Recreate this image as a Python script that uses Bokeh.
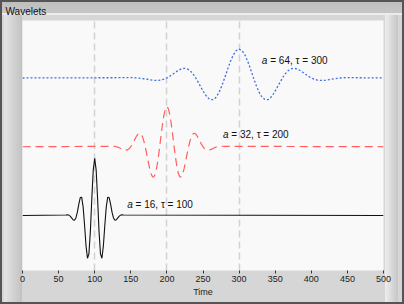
from bokeh.plotting import figure
from bokeh.models import Range1d, FixedTicker, Title, ColumnDataSource
from bokeh.core.properties import value
from bokeh.embed import file_html
from bokeh.resources import INLINE

# ---- data ----
x_ticks = [0, 50, 100, 150, 200, 250, 300, 350, 400, 450, 500]
grid_x = [100, 200, 300]

# baselines (vertical offsets) of the three traces
offsets = {"a16": 0.0, "a32": 1.0, "a64": 2.0}

# a = 16, tau = 100 (black, solid)
t16 = [0] + list(range(60, 141, 2)) + [500]
y16 = [0,
       0.008, 0.010, 0.006, -0.009, -0.035, -0.062, -0.070, -0.036, 0.049, 0.166,
       0.261, 0.263, 0.122, -0.146, -0.443, -0.622, -0.558, -0.231, 0.245, 0.664,
       0.830,
       0.664, 0.245, -0.231, -0.558, -0.622, -0.443, -0.146, 0.122, 0.263, 0.261,
       0.166, 0.049, -0.036, -0.070, -0.062, -0.035, -0.009, 0.006, 0.010, 0.008,
       0]

# a = 32, tau = 200 (red, dashed)
t32 = [0] + list(range(120, 281, 2)) + [500]
y32 = [0,
       0.006, 0.007, 0.007, 0.007, 0.004, 0.000, -0.006, -0.015, -0.025, -0.035,
       -0.043, -0.049, -0.049, -0.042, -0.026, 0.000, 0.034, 0.075, 0.117, 0.155,
       0.184, 0.196, 0.186, 0.149, 0.086, 0.000, -0.103, -0.211, -0.312, -0.392,
       -0.438, -0.440, -0.393, -0.298, -0.163, 0.000, 0.173, 0.335, 0.468, 0.555,
       0.585,
       0.555, 0.468, 0.335, 0.173, 0.000, -0.163, -0.298, -0.393, -0.440, -0.438,
       -0.392, -0.312, -0.211, -0.103, 0.000, 0.086, 0.149, 0.186, 0.196, 0.184,
       0.155, 0.117, 0.075, 0.034, 0.000, -0.026, -0.042, -0.049, -0.049, -0.043,
       -0.035, -0.025, -0.015, -0.006, 0.000, 0.004, 0.007, 0.007, 0.007, 0.006,
       0]

# a = 64, tau = 300 (blue, dotted)
t64 = [0] + list(range(140, 461, 4)) + [500]
y64 = [0,
       0.004, 0.005, 0.005, 0.005, 0.003, 0.000, -0.005, -0.011, -0.018, -0.025,
       -0.031, -0.035, -0.035, -0.030, -0.018, 0.000, 0.025, 0.054, 0.084, 0.112,
       0.132, 0.141, 0.133, 0.107, 0.062, 0.000, -0.074, -0.151, -0.224, -0.282,
       -0.315, -0.316, -0.282, -0.214, -0.117, 0.000, 0.124, 0.241, 0.336, 0.398,
       0.420,
       0.398, 0.336, 0.241, 0.124, 0.000, -0.117, -0.214, -0.282, -0.316, -0.315,
       -0.282, -0.224, -0.151, -0.074, 0.000, 0.062, 0.107, 0.133, 0.141, 0.132,
       0.112, 0.084, 0.054, 0.025, 0.000, -0.018, -0.030, -0.035, -0.035, -0.031,
       -0.025, -0.018, -0.011, -0.005, 0.000, 0.003, 0.005, 0.005, 0.005, 0.004,
       0]

label_values = ["= 16, \u03c4 = 100", "= 32, \u03c4 = 200", "= 64, \u03c4 = 300"]
label_x = [145, 277.6, 331.5]
label_y = [0.167, 1.178, 2.255]

# ---- figure ----
W, H = 404, 304
p = figure(width=W, height=H, output_backend="svg", toolbar_location=None,
           title=None, y_axis_location=None,
           x_range=Range1d(0, 500), y_range=Range1d(-0.8, 2.836),
           min_border_left=22, min_border_right=21, min_border_top=20,
           min_border_bottom=34)
p.background_fill_color = "#f9f9f9"
p.border_fill_alpha = 0
p.outline_line_color = None
p.styles = {
    "background": (
        "linear-gradient(#bdbdbd,#c6c6c6) 0 0 / 100% 13px no-repeat,"
        "linear-gradient(#ececec,#ececec) 0 13px / 100% 2px no-repeat,"
        "linear-gradient(to right,#eeeeee,#c6c6c6) 385px 15px / 13px 287px no-repeat,"
        "linear-gradient(to right,#e4e4e4,#c2c2c2) 4px 15px / 18px 287px no-repeat,"
        "#d6d6d6"
    ),
    "outline": "2px solid #555555",
    "outline-offset": "-2px",
}

# window title
p.add_layout(Title(text="Wavelets", align="left", offset=-17, standoff=7,
                   text_font="Liberation Sans", text_font_size="10px",
                   text_font_style="normal", text_color="#111111"), "above")

# grid
p.xgrid.ticker = FixedTicker(ticks=grid_x)
p.xgrid.grid_line_color = "#d2d2d2"
p.xgrid.grid_line_width = 1.5
p.xgrid.grid_line_dash = "7 4"
p.ygrid.visible = False

# axis
ax = p.xaxis[0]
ax.ticker = FixedTicker(ticks=x_ticks)
ax.axis_line_color = None
ax.major_tick_in = 0
ax.major_tick_out = 3
ax.major_tick_line_color = "#333333"
ax.minor_tick_line_color = None
ax.major_label_standoff = 2
ax.major_label_text_font = "Liberation Sans"
ax.major_label_text_font_size = "9px"
ax.major_label_text_color = "#222222"
ax.axis_label = "Time"
ax.axis_label_standoff = 2
ax.axis_label_text_font = "Liberation Sans"
ax.axis_label_text_font_size = "9px"
ax.axis_label_text_font_style = "normal"
ax.axis_label_text_color = "#222222"

# traces
p.line(t64, [v + offsets["a64"] for v in y64], line_color="#3d6fe6",
       line_width=1.3, line_dash="2 2")
p.line(t32, [v + offsets["a32"] for v in y32], line_color="#ff5f5f",
       line_width=1.2, line_dash="8 5")
p.line(t16, [v + offsets["a16"] for v in y16], line_color="#111111",
       line_width=1.1)

# labels
src = ColumnDataSource(dict(x=label_x, y=label_y, rest=label_values,
                            a=["a"] * 3))
p.text(x="x", y="y", text="a", source=src, text_font=value("Liberation Sans"),
       text_font_size="10px", text_font_style="italic", text_color="#111111",
       text_baseline="middle", text_align="left")
p.text(x="x", y="y", text="rest", source=src, text_font=value("Liberation Sans"),
       text_font_size="10px", text_color="#111111", text_baseline="middle",
       text_align="left", x_offset=8.4)

open("out.html", "w").write(file_html(p, INLINE))
